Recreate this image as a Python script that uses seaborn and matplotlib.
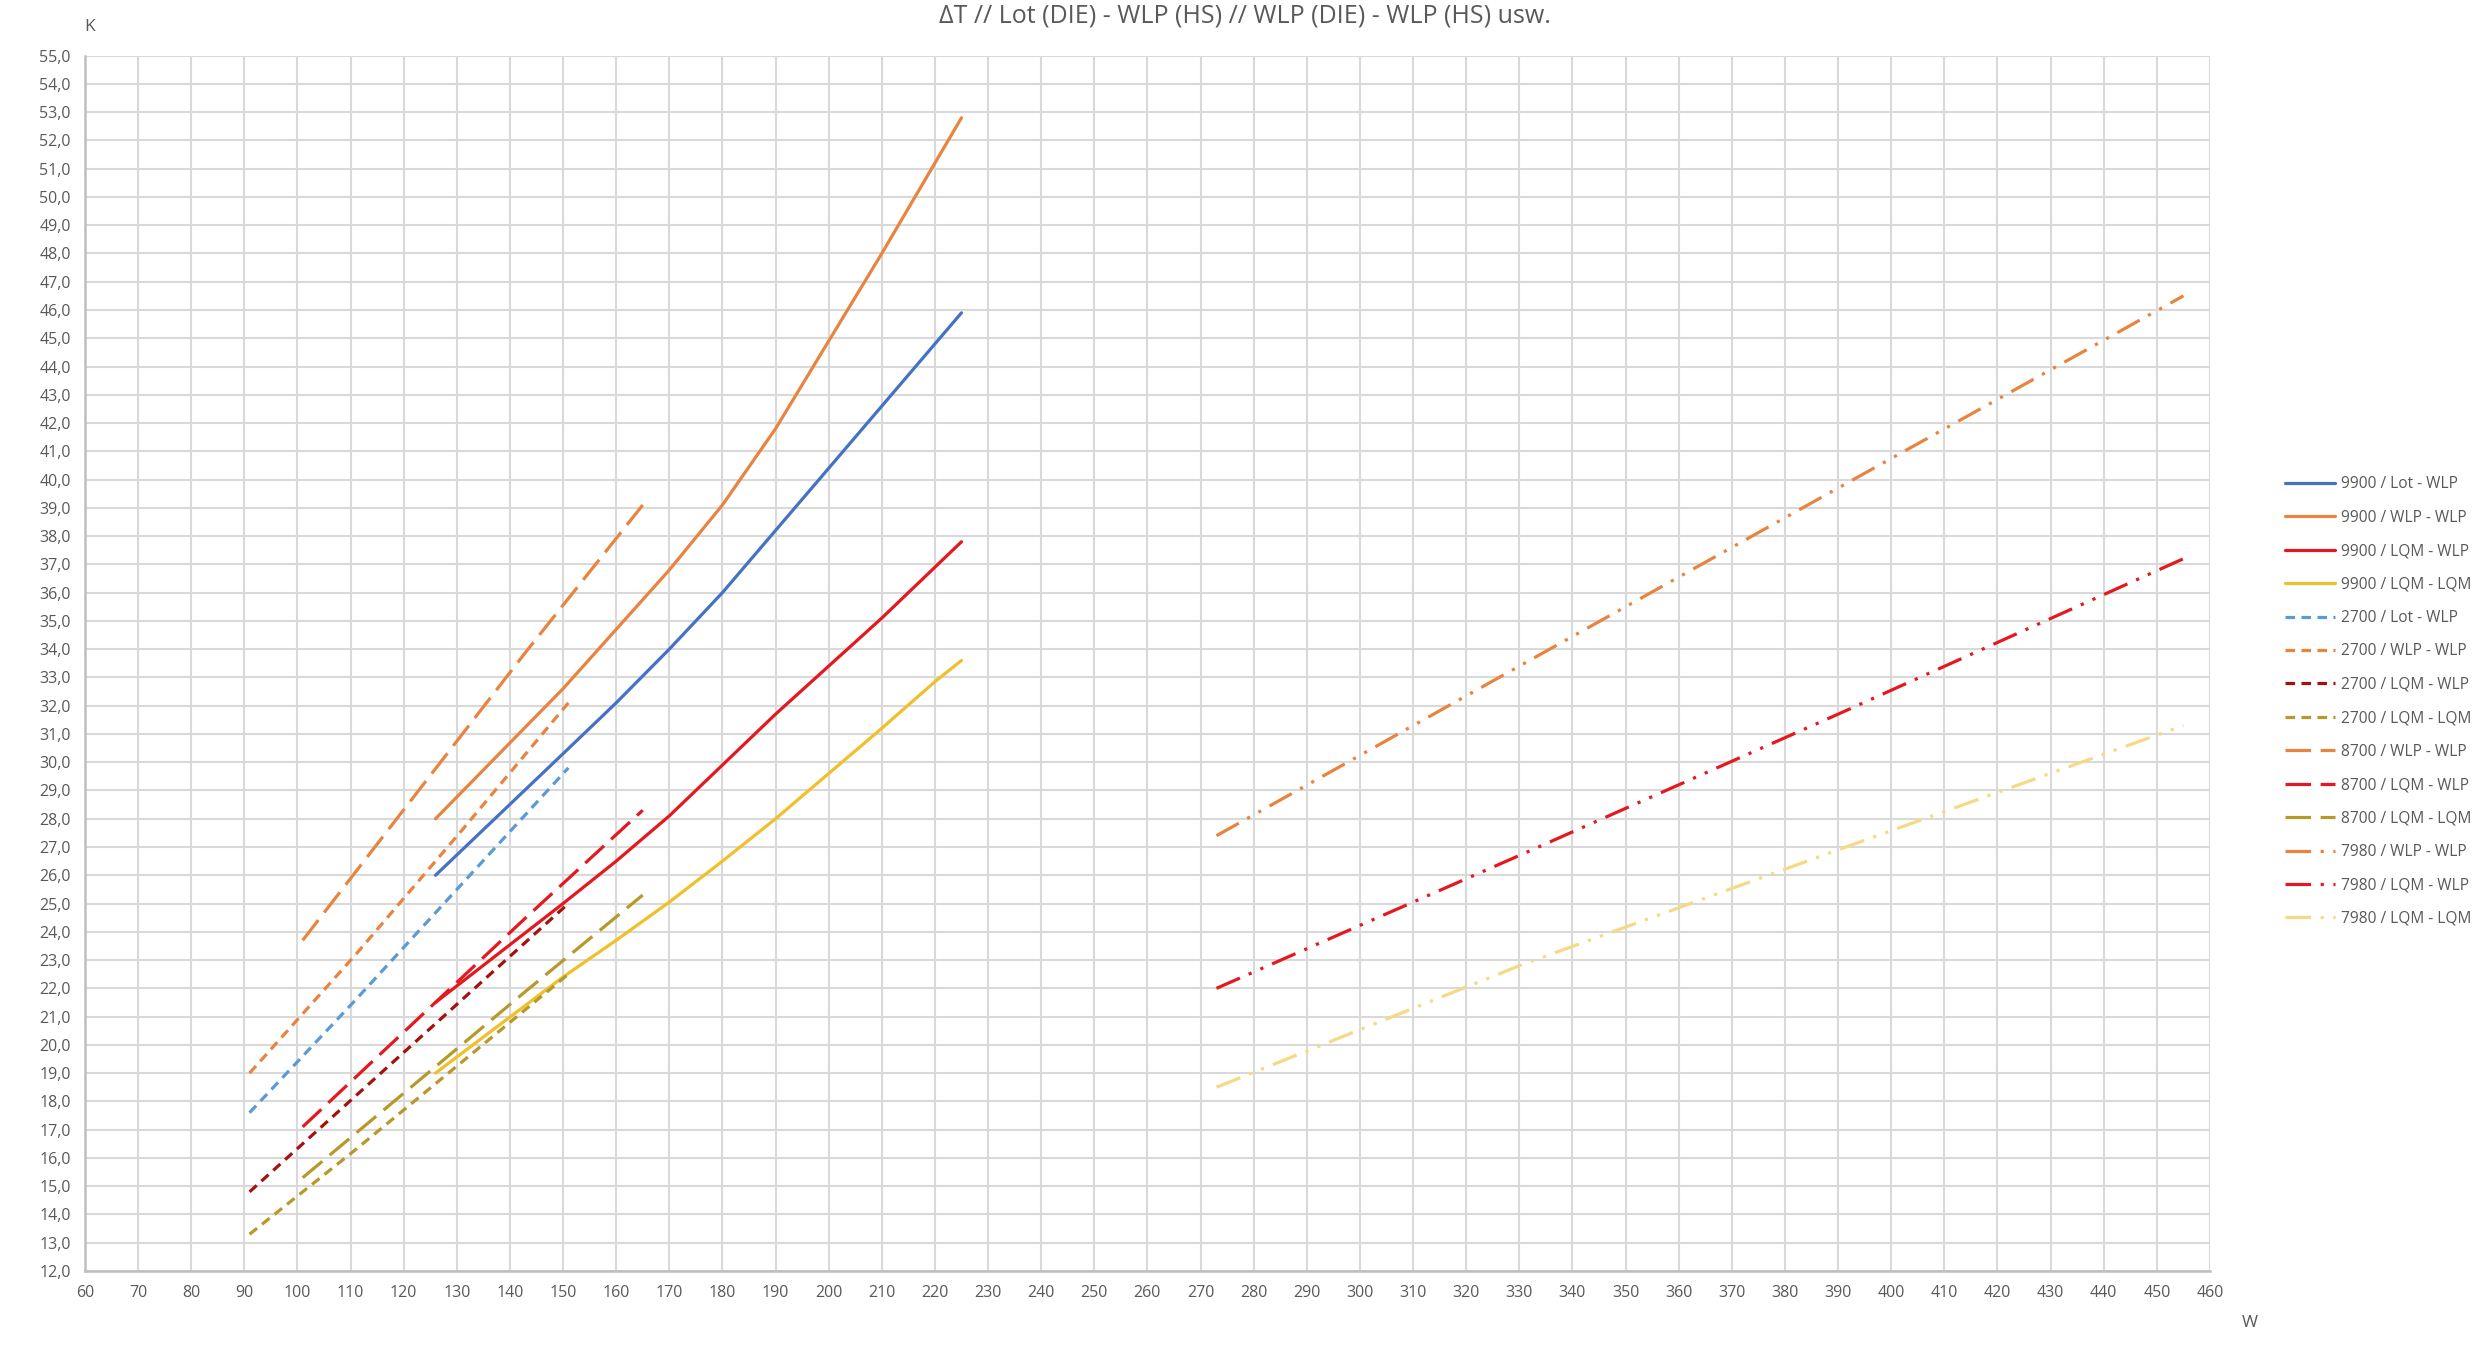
import numpy as np
import pandas as pd
import matplotlib
matplotlib.use("Agg")
import matplotlib.pyplot as plt
from matplotlib.ticker import MultipleLocator, FuncFormatter
import seaborn as sns

# --- data (x in W, y in K) ---
w_9900 = [126, 150, 160, 170, 180, 190, 200, 210, 220, 225]
lot_wlp_9900 = [26.0, 30.3, 32.1, 34.0, 36.0, 38.2, 40.4, 42.6, 44.8, 45.9]
wlp_wlp_9900 = [28.0, 32.6, 34.7, 36.8, 39.1, 41.8, 44.9, 48.0, 51.2, 52.8]
lqm_wlp_9900 = [21.5, 25.0, 26.5, 28.1, 29.9, 31.7, 33.4, 35.1, 36.9, 37.8]
lqm_lqm_9900 = [19.0, 22.4, 23.7, 25.05, 26.5, 28.0, 29.6, 31.2, 32.85, 33.6]

w_2700 = [91, 111, 131, 151]
lot_wlp_2700 = [17.6, 21.6, 25.7, 29.8]
wlp_wlp_2700 = [19.0, 23.2, 27.6, 32.1]
lqm_wlp_2700 = [14.8, 18.2, 21.6, 25.0]
lqm_lqm_2700 = [13.3, 16.3, 19.4, 22.5]

w_8700 = [101, 122, 143, 165]
wlp_wlp_8700 = [23.7, 28.8, 33.9, 39.1]
lqm_wlp_8700 = [17.1, 20.8, 24.5, 28.3]
lqm_lqm_8700 = [15.3, 18.6, 21.9, 25.3]

w_7980 = [273, 330, 390, 455]
wlp_wlp_7980 = [27.4, 33.4, 39.7, 46.5]
lqm_wlp_7980 = [22.0, 26.7, 31.7, 37.2]
lqm_lqm_7980 = [18.5, 22.8, 26.9, 31.3]

labels = ["9900 / Lot - WLP", "9900 / WLP - WLP", "9900 / LQM - WLP", "9900 / LQM - LQM",
          "2700 / Lot - WLP", "2700 / WLP - WLP", "2700 / LQM - WLP", "2700 / LQM - LQM",
          "8700 / WLP - WLP", "8700 / LQM - WLP", "8700 / LQM - LQM",
          "7980 / WLP - WLP", "7980 / LQM - WLP", "7980 / LQM - LQM"]

xs = [w_9900] * 4 + [w_2700] * 4 + [w_8700] * 3 + [w_7980] * 3
ys = [lot_wlp_9900, wlp_wlp_9900, lqm_wlp_9900, lqm_lqm_9900,
      lot_wlp_2700, wlp_wlp_2700, lqm_wlp_2700, lqm_lqm_2700,
      wlp_wlp_8700, lqm_wlp_8700, lqm_lqm_8700,
      wlp_wlp_7980, lqm_wlp_7980, lqm_lqm_7980]

# styling
BLUE, ORANGE, RED, GOLD = "#4472C4", "#E8843F", "#E3191F", "#F0C02A"
LBLUE, DRED, OLIVE, LYEL = "#5B9BD5", "#A3120F", "#B7992A", "#F5D985"
colors = [BLUE, ORANGE, RED, GOLD, LBLUE, ORANGE, DRED, OLIVE,
          ORANGE, RED, OLIVE, ORANGE, RED, LYEL]
solid = "-"
short = (0, (3, 2))
longd = (0, (8, 3))
lddd = (0, (8, 3, 1, 3, 1, 3))
styles = [solid] * 4 + [short] * 4 + [longd] * 3 + [lddd] * 3

sns.set_theme(style="white")
plt.rcParams["font.family"] = ["Open Sans", "DejaVu Sans"]
TXT = "#595959"

fig = plt.figure(figsize=(24.89, 13.57), dpi=100)
ax = fig.add_axes([0.0341, 0.0634, 0.8538, 0.8956])

for x, y, lab, c, ls in zip(xs, ys, labels, colors, styles):
    df = pd.DataFrame({"W": x, "K": y})
    sns.lineplot(data=df, x="W", y="K", ax=ax, color=c, linestyle=ls,
                 linewidth=2.3, label=lab, errorbar=None, estimator=None)

ax.set_xlim(60, 460)
ax.set_ylim(12, 55)
ax.xaxis.set_major_locator(MultipleLocator(10))
ax.yaxis.set_major_locator(MultipleLocator(1))
ax.yaxis.set_major_formatter(FuncFormatter(lambda v, p: f"{v:.1f}".replace(".", ",")))
ax.grid(True, color="#D9D9D9", linewidth=1.5)
ax.set_axisbelow(True)
for s in ["top", "right"]:
    ax.spines[s].set_visible(False)
for s in ["left", "bottom"]:
    ax.spines[s].set_color("#BFBFBF")
    ax.spines[s].set_linewidth(1.8)
ax.tick_params(axis="both", length=0, labelsize=11.5, colors=TXT)
ax.tick_params(axis="x", pad=10)
ax.tick_params(axis="y", pad=10)
ax.set_xlabel("")
ax.set_ylabel("")

fig.text(0.5, 0.988, "ΔT // Lot (DIE) - WLP (HS) // WLP (DIE) - WLP (HS) usw.",
         ha="center", va="center", fontsize=18, color=TXT)
fig.text(0.036, 0.980, "K", ha="center", va="center", fontsize=12.5, color=TXT)
fig.text(0.904, 0.025, "W", ha="center", va="center", fontsize=12.5, color=TXT)

handles, labs = ax.get_legend_handles_labels()
ax.legend(handles, labs, loc="center left", bbox_to_anchor=(0.915, 0.483),
          bbox_transform=fig.transFigure, frameon=False, fontsize=11.2,
          handlelength=3.2, handletextpad=0.4, labelspacing=1.12,
          borderpad=0, labelcolor=TXT)

fig.savefig("out.png", dpi=100)
